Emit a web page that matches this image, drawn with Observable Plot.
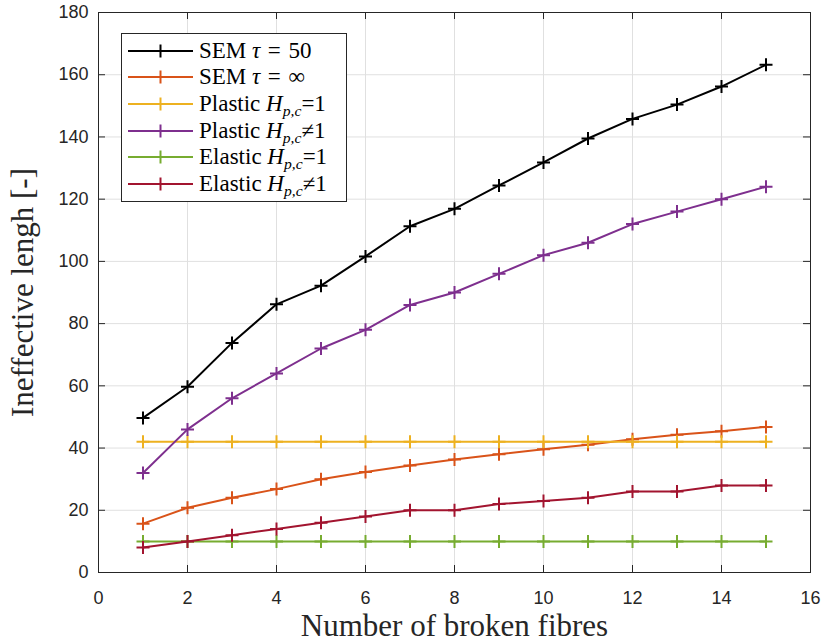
<!DOCTYPE html>
<html><head><meta charset="utf-8">
<script src="https://cdn.jsdelivr.net/npm/d3@7"></script>
<script src="https://cdn.jsdelivr.net/npm/@observablehq/plot@0.6"></script>
<style>
body{margin:0;background:#fff;}
#wrap{position:relative;width:824px;height:644px;}
#legend{position:absolute;left:121px;top:33px;width:226px;height:169px;border:1px solid #262626;background:#fff;box-sizing:border-box;font-family:"Liberation Serif",serif;font-size:23px;color:#000;}
.row{position:absolute;left:6px;height:26px;display:flex;align-items:center;white-space:nowrap;}
.row svg{margin-right:6px;flex:none;}
.row sub{font-size:0.68em;vertical-align:-0.35em;line-height:0;}
.rel{margin:0 0.08em;}
</style></head><body><div id="wrap"></div>
<script>
// ---- data ----
const brokenFibres = [1,2,3,4,5,6,7,8,9,10,11,12,13,14,15];
const semTau50     = [49.7,59.7,73.8,86.2,92.2,101.6,111.3,116.9,124.4,131.8,139.5,145.8,150.4,156.2,163.2];
const semTauInf    = [15.7,20.8,24.0,26.8,30.0,32.3,34.4,36.3,38.0,39.6,41.1,42.8,44.3,45.4,46.8];
const plasticEq1   = [42,42,42,42,42,42,42,42,42,42,42,42,42,42,42];
const plasticNeq1  = [32,46,56,64,72,78,86,90,96,102,106,112,116,120,124];
const elasticEq1   = [10,10,10,10,10,10,10,10,10,10,10,10,10,10,10];
const elasticNeq1  = [8,10,12,14,16,18,20,20,22,23,24,26,26,28,28];
const seriesLabels = [
  'SEM <i>τ</i> <span class="rel">=</span> 50',
  'SEM <i>τ</i> <span class="rel">=</span> ∞',
  'Plastic <i>H</i><sub><i>p,c</i></sub>=1',
  'Plastic <i>H</i><sub><i>p,c</i></sub>≠1',
  'Elastic <i>H</i><sub><i>p,c</i></sub>=1',
  'Elastic <i>H</i><sub><i>p,c</i></sub>≠1'
];
const seriesColors = ["#000000","#D95319","#EDB120","#7E2F8E","#77AC30","#A2142F"];
const xTicks = [0,2,4,6,8,10,12,14,16];
const yTicks = [0,20,40,60,80,100,120,140,160,180];
const xLabel = "Number of broken fibres";
const yLabel = "Ineffective lengh [-]";

// ---- layout ----
const W = 824, H = 644, mL = 98, mR = 14, mT = 12, mB = 72;
const innerW = W - mL - mR, innerH = H - mT - mB, tickLen = 7;

const seriesValues = [semTau50, semTauInf, plasticEq1, plasticNeq1, elasticEq1, elasticNeq1];
const series = seriesValues.map((vals, i) =>
  brokenFibres.map((x, j) => ({x, y: vals[j]})));

const plus = {draw(ctx, size) {
  const r = Math.sqrt(size / Math.PI);
  ctx.moveTo(-r, 0); ctx.lineTo(r, 0);
  ctx.moveTo(0, -r); ctx.lineTo(0, r);
}};

const seriesMarks = series.flatMap((d, i) => [
  Plot.line(d, {x: "x", y: "y", stroke: seriesColors[i], strokeWidth: 2}),
  Plot.dot(d, {x: "x", y: "y", symbol: plus, r: 6.5, stroke: seriesColors[i], strokeWidth: 2, fill: "none"})
]);

const chart = Plot.plot({
  width: W, height: H,
  marginLeft: mL, marginRight: mR, marginTop: mT, marginBottom: mB,
  style: {fontFamily: "'Liberation Sans', Arial, sans-serif", fontSize: "18px", color: "#262626", background: "#fff"},
  x: {domain: [0, 16]},
  y: {domain: [0, 180]},
  marks: [
    Plot.gridX(xTicks, {stroke: "#e0e0e0", strokeOpacity: 1}),
    Plot.gridY(yTicks, {stroke: "#e0e0e0", strokeOpacity: 1}),
    Plot.axisX(xTicks, {tickSize: 0, tickPadding: 19, fontSize: 18, label: null}),
    Plot.axisY(yTicks, {tickSize: 0, tickPadding: 10, fontSize: 18, label: null}),
    Plot.ruleX(xTicks, {x: d => d, insetTop: innerH - tickLen, stroke: "#262626"}),
    Plot.ruleX(xTicks, {x: d => d, insetBottom: innerH - tickLen, stroke: "#262626"}),
    Plot.ruleY(yTicks, {y: d => d, insetRight: innerW - tickLen, stroke: "#262626"}),
    Plot.ruleY(yTicks, {y: d => d, insetLeft: innerW - tickLen, stroke: "#262626"}),
    ...seriesMarks,
    Plot.frame({stroke: "#262626"}),
    Plot.text([xLabel], {frameAnchor: "bottom", lineAnchor: "middle", textAnchor: "middle", dy: 54, fontFamily: "'Liberation Serif', serif", fontSize: 31, fill: "#262626"}),
    Plot.text([yLabel], {frameAnchor: "left", lineAnchor: "middle", textAnchor: "middle", rotate: -90, dx: -75, fontFamily: "'Liberation Serif', serif", fontSize: 31, fill: "#262626"})
  ]
});

const wrap = document.getElementById("wrap");
wrap.appendChild(chart);

// legend
const legend = document.createElement("div");
legend.id = "legend";
seriesLabels.forEach((lab, i) => {
  const row = document.createElement("div");
  row.className = "row";
  row.style.top = (17.7 + 26.67 * i - 13 - 1) + "px";
  const c = seriesColors[i];
  row.innerHTML = `<svg width="65" height="26"><line x1="0" y1="13" x2="65" y2="13" stroke="${c}" stroke-width="2"/>` +
    `<line x1="26" y1="13" x2="39" y2="13" stroke="${c}" stroke-width="2"/><line x1="32.5" y1="6.5" x2="32.5" y2="19.5" stroke="${c}" stroke-width="2"/></svg>` +
    `<span>${lab}</span>`;
  legend.appendChild(row);
});
wrap.appendChild(legend);
</script>
</body></html>
